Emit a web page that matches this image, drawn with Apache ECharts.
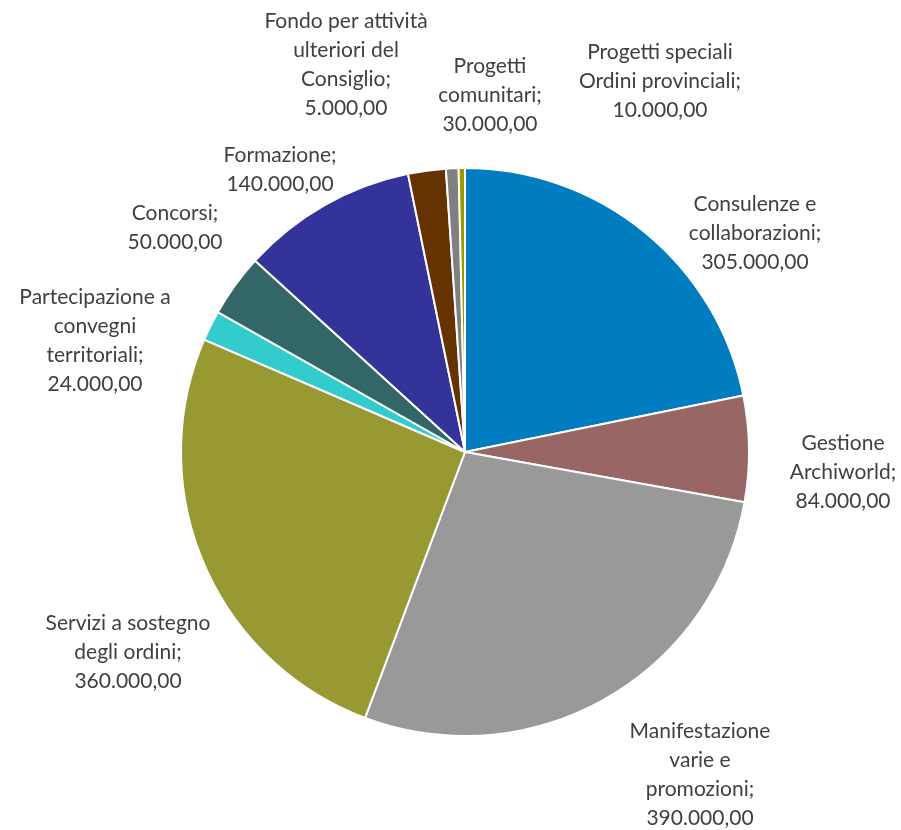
<!DOCTYPE html>
<html>
<head>
<meta charset="utf-8">
<script src="https://cdn.jsdelivr.net/npm/echarts@6/dist/echarts.min.js"></script>
<style>
html,body{margin:0;padding:0;background:#fff;}
#chart{width:901px;height:830px;}
</style>
</head>
<body>
<div id="chart"></div>
<script>
// Data
const categories = [
  "Consulenze e\ncollaborazioni",
  "Gestione\nArchiworld",
  "Manifestazione\nvarie e\npromozioni",
  "Servizi a sostegno\ndegli ordini",
  "Partecipazione a\nconvegni\nterritoriali",
  "Concorsi",
  "Formazione",
  "Progetti\ncomunitari",
  "Progetti speciali\nOrdini provinciali",
  "Fondo per attività\nulteriori del\nConsiglio"
];
const values = [305000, 84000, 390000, 360000, 24000, 50000, 140000, 30000, 10000, 5000];
const colors = ["#007DC0", "#996666", "#999999", "#999933", "#33CCCC", "#336666", "#333399", "#663300", "#808080", "#999900"];

// label anchor positions (layout only)
const labelPos = [
  [755, 233], [843, 472], [700, 775], [128, 652], [95, 341],
  [175, 228], [280, 170], [490, 95], [660, 81], [346, 65]
];

function fmtIt(v) {
  const s = Math.round(v).toString().replace(/\B(?=(\d{3})+(?!\d))/g, ".");
  return s + ",00";
}

const chart = echarts.init(document.getElementById('chart'), null, {renderer: 'canvas'});
chart.setOption({
  animation: false,
  backgroundColor: '#ffffff',
  series: [{
    type: 'pie',
    center: [465, 452],
    radius: 284,
    startAngle: 90,
    clockwise: true,
    avoidLabelOverlap: false,
    itemStyle: {borderColor: '#ffffff', borderWidth: 2},
    label: {
      show: true,
      position: 'outside',
      fontFamily: 'Lato',
      fontSize: 21,
      lineHeight: 29,
      color: '#404040',
      align: 'center',
      formatter: p => p.name + ';\n' + fmtIt(p.value)
    },
    labelLine: {show: false},
    labelLayout: p => ({
      x: labelPos[p.dataIndex][0],
      y: labelPos[p.dataIndex][1],
      align: 'center',
      verticalAlign: 'middle',
      hideOverlap: false
    }),
    data: categories.map((c, i) => ({name: c, value: values[i], itemStyle: {color: colors[i]}}))
  }]
});
</script>
</body>
</html>
